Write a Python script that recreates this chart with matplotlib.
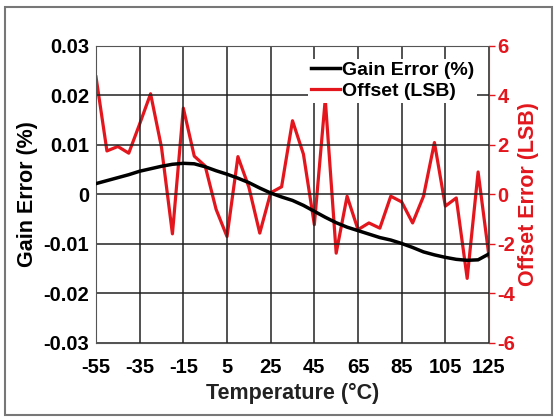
import matplotlib.pyplot as plt
from matplotlib.patches import Rectangle

# temperature points (deg C)
temps = list(range(-55, 130, 5))

# gain error in % (left axis)
gain_error = [0.0022, 0.0028, 0.0034, 0.0040, 0.0047, 0.0052, 0.0057, 0.0061,
              0.0063, 0.0062, 0.0056, 0.0048, 0.0041, 0.0033, 0.0024, 0.0013,
              0.0003, -0.0005, -0.0012, -0.0022, -0.0034, -0.0046, -0.0057,
              -0.0066, -0.0073, -0.0080, -0.0087, -0.0092, -0.0099, -0.0107,
              -0.0116, -0.0122, -0.0127, -0.0131, -0.0133, -0.0132, -0.0120]

# offset in LSB (right axis)
offset_lsb = [4.75, 1.76, 1.94, 1.67, 2.85, 4.07, 1.9, -1.59, 3.49, 1.55,
              1.15, -0.6, -1.70, 1.53, 0.3, -1.56, 0.07, 0.31, 2.98, 1.63,
              -1.22, 3.85, -2.37, -0.07, -1.42, -1.15, -1.36, -0.07, -0.3,
              -1.15, -0.07, 2.1, -0.47, -0.14, -3.39, 0.91, -2.51]

x_ticks = [-55, -35, -15, 5, 25, 45, 65, 85, 105, 125]
left_ticks = [0.03, 0.02, 0.01, 0, -0.01, -0.02, -0.03]
left_labels = ['0.03', '0.02', '0.01', '0', '-0.01', '-0.02', '-0.03']
right_ticks = [6, 4, 2, 0, -2, -4, -6]

red = '#e3161d'
plt.rcParams['font.family'] = ['Liberation Sans', 'DejaVu Sans']
plt.rcParams['font.weight'] = 'bold'
plt.rcParams['axes.unicode_minus'] = False

fig = plt.figure(figsize=(5.54, 4.17), dpi=100)
ax = fig.add_axes([0.1733, 0.1775, 0.7094, 0.7122])
ax2 = ax.twinx()

# grey frame round the whole picture
fig.patches.append(Rectangle((5 / 554, 2 / 417), 547 / 554, 408 / 417,
                             transform=fig.transFigure, fill=False,
                             edgecolor='#777777', linewidth=1.5))

ax.set_zorder(ax2.get_zorder() + 1)
ax.patch.set_visible(False)

l1, = ax.plot(temps, gain_error, color='black', lw=2.5, label='Gain Error (%)', zorder=3)
l2, = ax2.plot(temps, offset_lsb, color=red, lw=2.3, label='Offset (LSB)')

ax.set_xlim(-55, 125)
ax.set_ylim(-0.03, 0.03)
ax2.set_ylim(-6, 6)
ax.set_xticks(x_ticks)
ax.set_yticks(left_ticks)
ax.set_yticklabels(left_labels)
ax2.set_yticks(right_ticks)

ax.grid(True, color='#222222', lw=1.1)
ax.set_axisbelow(True)
ax.tick_params(axis='both', length=0, labelsize=14.5, pad=5)
ax.tick_params(axis='x', pad=11)
ax2.tick_params(axis='y', colors=red, length=4, width=1, labelsize=14.5, pad=2)

for s in ['left', 'bottom', 'top']:
    ax.spines[s].set_color('#555555')
    ax2.spines[s].set_visible(False)
ax.spines['right'].set_visible(False)
ax2.spines['right'].set_color(red)

ax.set_xlabel('Temperature (°C)', fontsize=15.5, fontweight='bold', color='#222222', labelpad=4)
ax.set_ylabel('Gain Error (%)', fontsize=15.5, fontweight='bold', labelpad=4)
ax2.set_ylabel('Offset Error (LSB)', fontsize=15.5, fontweight='bold', color=red, labelpad=2)

leg = ax.legend(handles=[l1, l2], loc='upper right', bbox_to_anchor=(0.995, 0.99),
                fontsize=14, handlelength=1.5, handletextpad=0.1, borderpad=0.15,
                labelspacing=0.15, frameon=True, fancybox=False)
leg.get_frame().set_facecolor('white')
leg.get_frame().set_edgecolor('none')
leg.get_frame().set_alpha(1)

fig.savefig('out.png', dpi=100)
